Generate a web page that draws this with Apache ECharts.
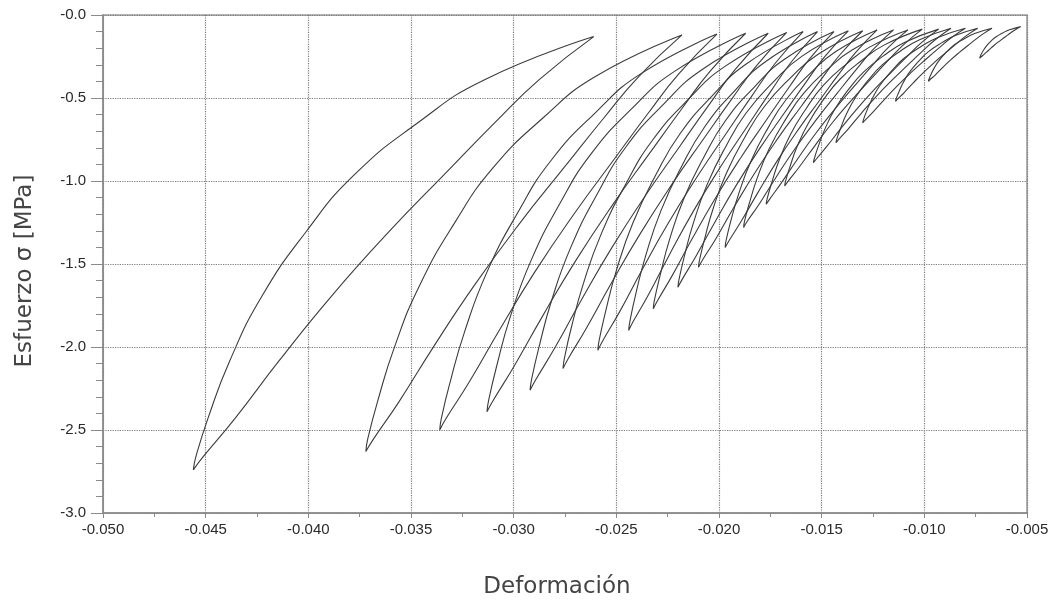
<!DOCTYPE html>
<html>
<head>
<meta charset="utf-8">
<script src="https://cdn.jsdelivr.net/npm/echarts@6/dist/echarts.min.js"></script>
<style>
html,body{margin:0;padding:0;background:#fff;}
#c{width:1057px;height:605px;}
</style>
</head>
<body>
<div id="c"></div>
<script>
// Each loop: top -> lower/right branch -> tip -> upper/left branch -> top   [strain, stress (MPa)]
const loop1 = [[-0.0261,-0.13],[-0.02877,-0.391],[-0.03094,-0.652],[-0.03341,-0.965],[-0.03606,-1.304],[-0.03889,-1.696],[-0.04145,-2.087],[-0.04355,-2.427],[-0.04513,-2.662],[-0.0456,-2.74],[-0.04548,-2.662],[-0.04488,-2.427],[-0.04384,-2.087],[-0.04227,-1.696],[-0.0401,-1.304],[-0.03778,-0.965],[-0.0347,-0.652],[-0.03144,-0.391],[-0.0261,-0.13]];
const loop2 = [[-0.0218,-0.12],[-0.02391,-0.371],[-0.02562,-0.622],[-0.02757,-0.923],[-0.02967,-1.249],[-0.0319,-1.626],[-0.03392,-2.002],[-0.03558,-2.329],[-0.03683,-2.555],[-0.0372,-2.63],[-0.03711,-2.555],[-0.03663,-2.329],[-0.03581,-2.002],[-0.03457,-1.626],[-0.03286,-1.249],[-0.03102,-0.923],[-0.02859,-0.622],[-0.02602,-0.371],[-0.0218,-0.12]];
const loop3 = [[-0.0201,-0.115],[-0.02195,-0.353],[-0.02345,-0.592],[-0.02516,-0.878],[-0.027,-1.188],[-0.02896,-1.546],[-0.03072,-1.904],[-0.03218,-2.214],[-0.03328,-2.428],[-0.0336,-2.5],[-0.03352,-2.428],[-0.0331,-2.214],[-0.03238,-1.904],[-0.03129,-1.546],[-0.02979,-1.188],[-0.02819,-0.878],[-0.02605,-0.592],[-0.0238,-0.353],[-0.0201,-0.115]];
const loop4 = [[-0.0187,-0.11],[-0.02043,-0.338],[-0.02182,-0.566],[-0.02342,-0.84],[-0.02514,-1.136],[-0.02697,-1.478],[-0.02862,-1.82],[-0.02998,-2.116],[-0.031,-2.322],[-0.0313,-2.39],[-0.03122,-2.322],[-0.03083,-2.116],[-0.03017,-1.82],[-0.02915,-1.478],[-0.02775,-1.136],[-0.02625,-0.84],[-0.02426,-0.566],[-0.02215,-0.338],[-0.0187,-0.11]];
const loop5 = [[-0.0176,-0.11],[-0.01919,-0.325],[-0.02048,-0.54],[-0.02195,-0.798],[-0.02353,-1.078],[-0.02521,-1.4],[-0.02673,-1.723],[-0.02798,-2.002],[-0.02892,-2.196],[-0.0292,-2.26],[-0.02913,-2.196],[-0.02877,-2.002],[-0.02816,-1.723],[-0.02722,-1.4],[-0.02593,-1.078],[-0.02455,-0.798],[-0.02272,-0.54],[-0.02078,-0.325],[-0.0176,-0.11]];
const loop6 = [[-0.0167,-0.105],[-0.01819,-0.308],[-0.0194,-0.51],[-0.02079,-0.753],[-0.02227,-1.016],[-0.02385,-1.32],[-0.02528,-1.624],[-0.02646,-1.887],[-0.02734,-2.069],[-0.0276,-2.13],[-0.02753,-2.069],[-0.0272,-1.887],[-0.02662,-1.624],[-0.02574,-1.32],[-0.02453,-1.016],[-0.02323,-0.753],[-0.02151,-0.51],[-0.01969,-0.308],[-0.0167,-0.105]];
const loop7 = [[-0.0159,-0.1],[-0.01727,-0.292],[-0.01838,-0.484],[-0.01965,-0.714],[-0.02101,-0.964],[-0.02246,-1.252],[-0.02377,-1.54],[-0.02485,-1.79],[-0.02566,-1.962],[-0.0259,-2.02],[-0.02584,-1.962],[-0.02553,-1.79],[-0.025,-1.54],[-0.02419,-1.252],[-0.02308,-0.964],[-0.02189,-0.714],[-0.02031,-0.484],[-0.01864,-0.292],[-0.0159,-0.1]];
const loop8 = [[-0.0152,-0.1],[-0.01646,-0.28],[-0.01748,-0.46],[-0.01865,-0.676],[-0.0199,-0.91],[-0.02124,-1.18],[-0.02244,-1.45],[-0.02343,-1.684],[-0.02418,-1.846],[-0.0244,-1.9],[-0.02434,-1.846],[-0.02406,-1.684],[-0.02357,-1.45],[-0.02283,-1.18],[-0.02181,-0.91],[-0.02071,-0.676],[-0.01926,-0.46],[-0.01772,-0.28],[-0.0152,-0.1]];
const loop9 = [[-0.0144,-0.1],[-0.01561,-0.267],[-0.01658,-0.434],[-0.0177,-0.634],[-0.0189,-0.852],[-0.02017,-1.102],[-0.02133,-1.353],[-0.02228,-1.57],[-0.02299,-1.72],[-0.0232,-1.77],[-0.02315,-1.72],[-0.02287,-1.57],[-0.02241,-1.353],[-0.0217,-1.102],[-0.02072,-0.852],[-0.01967,-0.634],[-0.01828,-0.434],[-0.01681,-0.267],[-0.0144,-0.1]];
const loop10 = [[-0.0137,-0.095],[-0.01484,-0.249],[-0.01576,-0.404],[-0.01681,-0.589],[-0.01794,-0.79],[-0.01914,-1.022],[-0.02023,-1.254],[-0.02113,-1.455],[-0.0218,-1.594],[-0.022,-1.64],[-0.02195,-1.594],[-0.02169,-1.455],[-0.02125,-1.254],[-0.02058,-1.022],[-0.01966,-0.79],[-0.01867,-0.589],[-0.01736,-0.404],[-0.01597,-0.249],[-0.0137,-0.095]];
const loop11 = [[-0.013,-0.095],[-0.0141,-0.238],[-0.01498,-0.38],[-0.016,-0.551],[-0.01709,-0.736],[-0.01825,-0.95],[-0.0193,-1.164],[-0.02016,-1.349],[-0.02081,-1.477],[-0.021,-1.52],[-0.02095,-1.477],[-0.0207,-1.349],[-0.02028,-1.164],[-0.01963,-0.95],[-0.01874,-0.736],[-0.01779,-0.551],[-0.01653,-0.38],[-0.01519,-0.238],[-0.013,-0.095]];
const loop12 = [[-0.0123,-0.09],[-0.01331,-0.221],[-0.01414,-0.352],[-0.01507,-0.509],[-0.01608,-0.68],[-0.01715,-0.876],[-0.01812,-1.073],[-0.01892,-1.243],[-0.01952,-1.361],[-0.0197,-1.4],[-0.01966,-1.361],[-0.01943,-1.243],[-0.01903,-1.073],[-0.01843,-0.876],[-0.01761,-0.68],[-0.01673,-0.509],[-0.01556,-0.352],[-0.01433,-0.221],[-0.0123,-0.09]];
const loop13 = [[-0.0115,-0.09],[-0.0125,-0.209],[-0.01331,-0.328],[-0.01424,-0.471],[-0.01523,-0.626],[-0.01629,-0.804],[-0.01725,-0.983],[-0.01803,-1.137],[-0.01863,-1.244],[-0.0188,-1.28],[-0.01876,-1.244],[-0.01853,-1.137],[-0.01814,-0.983],[-0.01755,-0.804],[-0.01674,-0.626],[-0.01587,-0.471],[-0.01472,-0.328],[-0.0135,-0.209],[-0.0115,-0.09]];
const loop14 = [[-0.0108,-0.09],[-0.01175,-0.195],[-0.01251,-0.3],[-0.01339,-0.426],[-0.01433,-0.563],[-0.01533,-0.72],[-0.01623,-0.878],[-0.01698,-1.014],[-0.01753,-1.109],[-0.0177,-1.14],[-0.01766,-1.109],[-0.01744,-1.014],[-0.01708,-0.878],[-0.01652,-0.72],[-0.01575,-0.563],[-0.01493,-0.426],[-0.01384,-0.3],[-0.01269,-0.195],[-0.0108,-0.09]];
const loop15 = [[-0.0101,-0.085],[-0.01102,-0.18],[-0.01176,-0.274],[-0.01261,-0.387],[-0.01352,-0.51],[-0.0145,-0.652],[-0.01537,-0.794],[-0.0161,-0.917],[-0.01664,-1.002],[-0.0168,-1.03],[-0.01676,-1.002],[-0.01655,-0.917],[-0.0162,-0.794],[-0.01565,-0.652],[-0.01491,-0.51],[-0.01411,-0.387],[-0.01305,-0.274],[-0.01194,-0.18],[-0.0101,-0.085]];
const loop16 = [[-0.0093,-0.085],[-0.01014,-0.166],[-0.01081,-0.246],[-0.01159,-0.343],[-0.01242,-0.447],[-0.0133,-0.568],[-0.0141,-0.689],[-0.01476,-0.793],[-0.01525,-0.866],[-0.0154,-0.89],[-0.01536,-0.866],[-0.01517,-0.793],[-0.01485,-0.689],[-0.01436,-0.568],[-0.01368,-0.447],[-0.01295,-0.343],[-0.01199,-0.246],[-0.01097,-0.166],[-0.0093,-0.085]];
const loop17 = [[-0.0087,-0.08],[-0.00947,-0.149],[-0.01009,-0.218],[-0.0108,-0.301],[-0.01156,-0.391],[-0.01237,-0.494],[-0.01311,-0.598],[-0.01371,-0.687],[-0.01417,-0.749],[-0.0143,-0.77],[-0.01427,-0.749],[-0.01409,-0.687],[-0.0138,-0.598],[-0.01334,-0.494],[-0.01272,-0.391],[-0.01205,-0.301],[-0.01117,-0.218],[-0.01023,-0.149],[-0.0087,-0.08]];
const loop18 = [[-0.008,-0.08],[-0.00869,-0.137],[-0.00924,-0.194],[-0.00988,-0.262],[-0.01056,-0.337],[-0.01128,-0.422],[-0.01194,-0.508],[-0.01248,-0.582],[-0.01288,-0.633],[-0.013,-0.65],[-0.01297,-0.633],[-0.01282,-0.582],[-0.01255,-0.508],[-0.01215,-0.422],[-0.01159,-0.337],[-0.011,-0.262],[-0.01021,-0.194],[-0.00937,-0.137],[-0.008,-0.08]];
const loop19 = [[-0.0074,-0.08],[-0.00795,-0.124],[-0.00839,-0.168],[-0.0089,-0.221],[-0.00944,-0.278],[-0.01002,-0.344],[-0.01055,-0.41],[-0.01098,-0.467],[-0.0113,-0.507],[-0.0114,-0.52],[-0.01138,-0.507],[-0.01125,-0.467],[-0.01104,-0.41],[-0.01072,-0.344],[-0.01027,-0.278],[-0.0098,-0.221],[-0.00916,-0.168],[-0.0085,-0.124],[-0.0074,-0.08]];
const loop20 = [[-0.0067,-0.08],[-0.00712,-0.112],[-0.00747,-0.144],[-0.00786,-0.182],[-0.00828,-0.224],[-0.00873,-0.272],[-0.00914,-0.32],[-0.00947,-0.362],[-0.00973,-0.39],[-0.0098,-0.4],[-0.00978,-0.39],[-0.00969,-0.362],[-0.00952,-0.32],[-0.00927,-0.272],[-0.00893,-0.224],[-0.00856,-0.182],[-0.00807,-0.144],[-0.00755,-0.112],[-0.0067,-0.08]];
const loop21 = [[-0.0053,-0.07],[-0.00557,-0.089],[-0.0058,-0.108],[-0.00605,-0.131],[-0.00632,-0.1555],[-0.00661,-0.184],[-0.00687,-0.2125],[-0.00709,-0.237],[-0.00725,-0.254],[-0.0073,-0.26],[-0.00729,-0.254],[-0.00723,-0.237],[-0.00712,-0.2125],[-0.00696,-0.184],[-0.00674,-0.1555],[-0.0065,-0.131],[-0.00618,-0.108],[-0.00585,-0.089],[-0.0053,-0.07]];

const loops = [loop1,loop2,loop3,loop4,loop5,loop6,loop7,loop8,loop9,loop10,loop11,loop12,loop13,loop14,loop15,loop16,loop17,loop18,loop19,loop20,loop21];

const xTitle = 'Deformación';
const yTitle = 'Esfuerzo σ [MPa]';

const chart = echarts.init(document.getElementById('c'), null, {renderer:'canvas'});
const labelFont = {fontFamily:'Liberation Sans, Arial, sans-serif', fontSize:15, color:'#2a2a2a'};

chart.setOption({
  animation:false,
  backgroundColor:'#fff',
  grid:{left:103, right:30, top:15, bottom:92, show:true, borderColor:'#9a9a9a', borderWidth:1.5, backgroundColor:'transparent'},
  xAxis:{
    type:'value', min:-0.05, max:-0.005, interval:0.005,
    name:xTitle, nameLocation:'middle', nameGap:63,
    nameTextStyle:{fontFamily:'DejaVu Sans, sans-serif', fontSize:23, color:'#444', padding:[0,16,0,0]},
    axisLine:{show:true, onZero:false, lineStyle:{color:'#8a8a8a', width:1.5}},
    axisTick:{show:true, length:5, lineStyle:{color:'#8a8a8a'}},
    minorTick:{show:true, splitNumber:2, length:4, lineStyle:{color:'#8a8a8a'}},
    axisLabel:Object.assign({margin:9, formatter:v=>'-'+Math.abs(v).toFixed(3)}, labelFont),
    splitLine:{show:true, lineStyle:{type:'dotted', color:'#7a7a7a', width:1.2}}
  },
  yAxis:{
    type:'value', min:-3, max:0, interval:0.5,
    name:yTitle, nameLocation:'middle', nameGap:66,
    nameTextStyle:{fontFamily:'DejaVu Sans, sans-serif', fontSize:23, color:'#444', padding:[0,14,0,0]},
    axisLine:{show:true, onZero:false, lineStyle:{color:'#8a8a8a', width:1.5}},
    axisTick:{show:true, length:12, lineStyle:{color:'#8a8a8a'}},
    minorTick:{show:true, splitNumber:5, length:7, lineStyle:{color:'#8a8a8a'}},
    axisLabel:Object.assign({margin:17, formatter:v=>(v<=0?'-':'')+Math.abs(v).toFixed(1)}, labelFont),
    splitLine:{show:true, lineStyle:{type:'dotted', color:'#7a7a7a', width:1.2}}
  },
  series: loops.map((d,i)=>({
    type:'line', name:'ciclo '+(i+1), data:d, showSymbol:false, smooth:0.5,
    lineStyle:{color:'#3c3c3c', width:1.1}, silent:true
  }))
});
</script>
</body>
</html>
